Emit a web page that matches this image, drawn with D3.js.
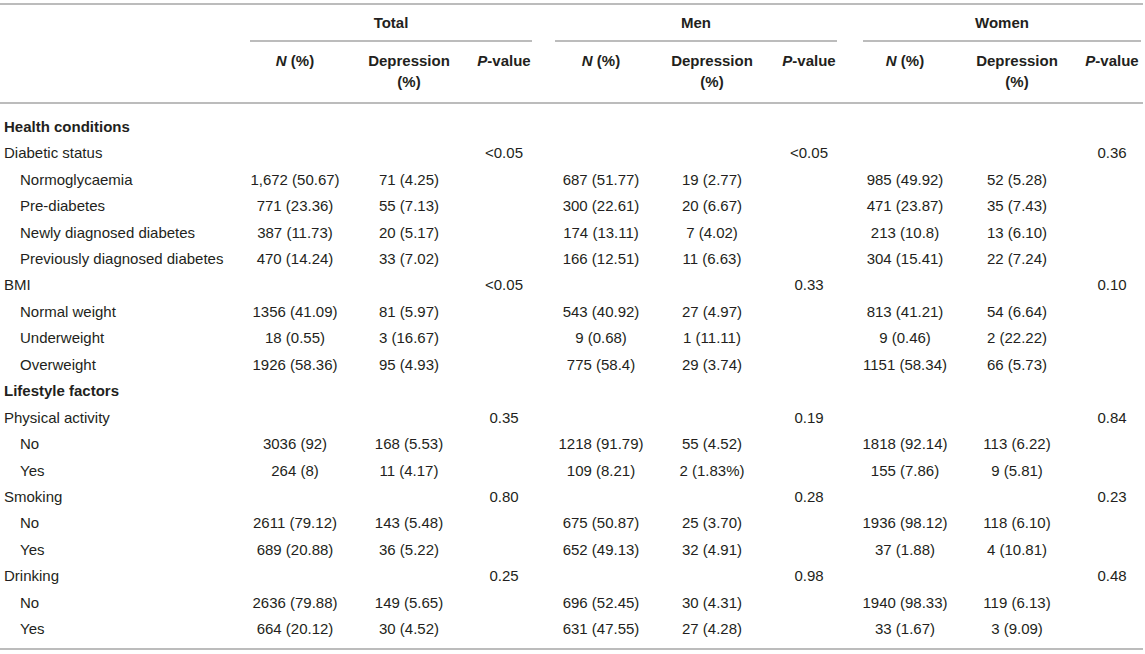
<!DOCTYPE html>
<html>
<head>
<meta charset="utf-8">
<script src="https://cdn.jsdelivr.net/npm/d3@7"></script>
<style>
  body { margin: 0; background: #fff; }
  svg text { font-family: "Liberation Sans", Arial, Helvetica, sans-serif; font-size: 15px; fill: #231f20; }
</style>
</head>
<body>
<div id="table"></div>
<script>
// row labels and their kind: section (bold), group, item (indented)
const rowLabels = [
  "Health conditions", "Diabetic status", "Normoglycaemia", "Pre-diabetes",
  "Newly diagnosed diabetes", "Previously diagnosed diabetes", "BMI",
  "Normal weight", "Underweight", "Overweight", "Lifestyle factors",
  "Physical activity", "No", "Yes", "Smoking", "No", "Yes", "Drinking", "No", "Yes"
];
const rowKinds = [
  "section", "group", "item", "item", "item", "item", "group",
  "item", "item", "item", "section",
  "group", "item", "item", "group", "item", "item", "group", "item", "item"
];

const groups = ["Total", "Men", "Women"];
const subHeaders = ["N (%)", "Depression (%)", "P-value"];

const totalN = ["", "", "1,672 (50.67)", "771 (23.36)", "387 (11.73)", "470 (14.24)", "",
  "1356 (41.09)", "18 (0.55)", "1926 (58.36)", "", "", "3036 (92)", "264 (8)", "",
  "2611 (79.12)", "689 (20.88)", "", "2636 (79.88)", "664 (20.12)"];
const totalDep = ["", "", "71 (4.25)", "55 (7.13)", "20 (5.17)", "33 (7.02)", "",
  "81 (5.97)", "3 (16.67)", "95 (4.93)", "", "", "168 (5.53)", "11 (4.17)", "",
  "143 (5.48)", "36 (5.22)", "", "149 (5.65)", "30 (4.52)"];
const totalP = ["", "<0.05", "", "", "", "", "<0.05", "", "", "", "", "0.35", "", "",
  "0.80", "", "", "0.25", "", ""];

const menN = ["", "", "687 (51.77)", "300 (22.61)", "174 (13.11)", "166 (12.51)", "",
  "543 (40.92)", "9 (0.68)", "775 (58.4)", "", "", "1218 (91.79)", "109 (8.21)", "",
  "675 (50.87)", "652 (49.13)", "", "696 (52.45)", "631 (47.55)"];
const menDep = ["", "", "19 (2.77)", "20 (6.67)", "7 (4.02)", "11 (6.63)", "",
  "27 (4.97)", "1 (11.11)", "29 (3.74)", "", "", "55 (4.52)", "2 (1.83%)", "",
  "25 (3.70)", "32 (4.91)", "", "30 (4.31)", "27 (4.28)"];
const menP = ["", "<0.05", "", "", "", "", "0.33", "", "", "", "", "0.19", "", "",
  "0.28", "", "", "0.98", "", ""];

const womenN = ["", "", "985 (49.92)", "471 (23.87)", "213 (10.8)", "304 (15.41)", "",
  "813 (41.21)", "9 (0.46)", "1151 (58.34)", "", "", "1818 (92.14)", "155 (7.86)", "",
  "1936 (98.12)", "37 (1.88)", "", "1940 (98.33)", "33 (1.67)"];
const womenDep = ["", "", "52 (5.28)", "35 (7.43)", "13 (6.10)", "22 (7.24)", "",
  "54 (6.64)", "2 (22.22)", "66 (5.73)", "", "", "113 (6.22)", "9 (5.81)", "",
  "118 (6.10)", "4 (10.81)", "", "119 (6.13)", "3 (9.09)"];
const womenP = ["", "0.36", "", "", "", "", "0.10", "", "", "", "", "0.84", "", "",
  "0.23", "", "", "0.48", "", ""];

const W = 1145, H = 654;
const lineColor = "#a6a6a6";

const svg = d3.select("#table").append("svg")
  .attr("width", W)
  .attr("height", H);

// rows
const rowIdx = d3.range(rowLabels.length);
const y = d3.scaleBand()
  .domain(rowIdx)
  .range([113, 113 + 26.45 * rowLabels.length]);

// columns: one key per data column
const colKeys = groups.flatMap(g => subHeaders.map(s => g + "|" + s));
const x = d3.scaleOrdinal()
  .domain(colKeys)
  .range([295, 409, 504, 601, 712, 809, 905, 1017, 1112]);

// group spans for the underlines
const groupSpan = d3.scaleOrdinal()
  .domain(groups)
  .range([[250, 532], [555, 837], [863, 1141]]);

const columns = [totalN, totalDep, totalP, menN, menDep, menP, womenN, womenDep, womenP];

// horizontal rules
svg.selectAll("line.rule")
  .data([4, 103, 649])
  .enter().append("line")
  .attr("class", "rule")
  .attr("x1", 0).attr("x2", W - 2)
  .attr("y1", d => d).attr("y2", d => d)
  .attr("stroke", lineColor)
  .attr("stroke-width", 1.6);

// group headers
const gh = svg.selectAll("g.group")
  .data(groups)
  .enter().append("g")
  .attr("class", "group");

gh.append("text")
  .attr("x", d => d3.mean(groupSpan(d)))
  .attr("y", 28)
  .attr("text-anchor", "middle")
  .style("font-weight", "bold")
  .text(d => d);

gh.append("line")
  .attr("x1", d => groupSpan(d)[0])
  .attr("x2", d => groupSpan(d)[1])
  .attr("y1", 41).attr("y2", 41)
  .attr("stroke", lineColor)
  .attr("stroke-width", 1.6);

// sub headers
colKeys.forEach(k => {
  const s = k.split("|")[1];
  const t = svg.append("text")
    .attr("x", x(k))
    .attr("y", 66)
    .attr("text-anchor", "middle")
    .style("font-weight", "bold");
  if (s === "N (%)") {
    t.append("tspan").style("font-style", "italic").text("N");
    t.append("tspan").text(" (%)");
  } else if (s === "P-value") {
    t.append("tspan").style("font-style", "italic").text("P");
    t.append("tspan").text("-value");
  } else {
    t.append("tspan").attr("x", x(k)).text("Depression");
    t.append("tspan").attr("x", x(k)).attr("dy", 21).text("(%)");
  }
});

// row labels
svg.selectAll("text.label")
  .data(rowIdx)
  .enter().append("text")
  .attr("class", "label")
  .attr("x", i => rowKinds[i] === "item" ? 20 : 4)
  .attr("y", i => y(i) + y.bandwidth() / 2 + 5.5)
  .style("font-weight", i => rowKinds[i] === "section" ? "bold" : "normal")
  .text(i => rowLabels[i]);

// cell values
columns.forEach((col, c) => {
  svg.selectAll("text.c" + c)
    .data(rowIdx.filter(i => col[i] !== ""))
    .enter().append("text")
    .attr("class", "c" + c)
    .attr("x", x(colKeys[c]))
    .attr("y", i => y(i) + y.bandwidth() / 2 + 5.5)
    .attr("text-anchor", "middle")
    .text(i => col[i]);
});
</script>
</body>
</html>
